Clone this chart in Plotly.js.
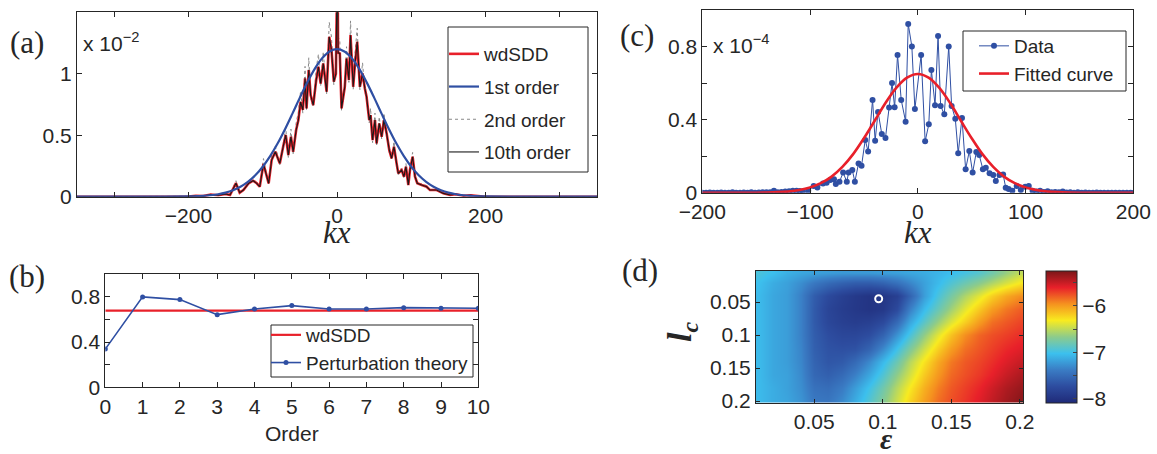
<!DOCTYPE html>
<html><head><meta charset="utf-8">
<script src="https://cdn.plot.ly/plotly-3.0.1.min.js"></script>
<style>html,body{margin:0;padding:0;background:#fff}#plot{width:1157px;height:454px}</style>
</head><body><div id="plot"></div>
<script>
// ---------- Panel (a) ----------
const kxA = [-350,-300,-250,-200,-190,-180,-170,-160,-150,-144,-136,-131,-126,-119,-113,-108,-104,-99,-92,-88,-83,-77,-72,-69,-65.5,-62,-59,-55,-52,-49,-46,-43,-41,-38,-35.5,-32,-28,-25,-22,-18.5,-14,-10.5,-7.4,-4.3,-1.5,-0.6,0.6,1.5,3.8,6.1,10.5,12.8,16,18.2,21.8,24.1,27.2,30.8,34.4,37.5,39.8,43.4,45.2,47.9,51.1,53.3,56.9,60.1,63.2,66.8,70.4,73.5,76.7,80.2,82.5,87,90.1,92.8,96,98.2,101.8,105,108.1,114,120.7,125.2,134.2,143.2,152.2,160,170,180,190,200,250,300,350];
const wdsddA = [0,0,0,0.002,0.008,0.005,0.018,0.012,0.022,0.014,0.11,0.033,0.054,0.109,0.13,0.109,0.081,0.266,0.109,0.298,0.366,0.271,0.42,0.502,0.339,0.488,0.366,0.542,0.623,0.772,0.705,0.962,0.718,1.03,0.827,0.745,0.949,1.057,0.921,1.084,0.854,1.301,1.192,0.935,1.0,2.0,2.0,1.17,1.165,0.718,0.894,1.124,0.949,1.314,0.894,1.07,1.26,0.894,1.003,0.881,0.813,0.623,0.664,0.461,0.623,0.434,0.596,0.488,0.623,0.515,0.379,0.312,0.407,0.271,0.19,0.217,0.163,0.244,0.095,0.217,0.325,0.163,0.109,0.095,0.081,0.054,0.054,0.027,0.014,0.02,0.008,0.012,0.004,0,0,0,0];
const secondA = [0,0,0,0.003,0.01,0.006,0.02,0.015,0.025,0.016,0.13,0.03,0.06,0.12,0.15,0.11,0.08,0.31,0.1,0.34,0.41,0.26,0.47,0.56,0.32,0.55,0.35,0.6,0.69,0.86,0.68,1.06,0.7,1.13,0.8,0.73,1.04,1.16,0.9,1.18,0.83,1.42,1.3,0.91,1.0,2.0,2.0,1.3,1.27,0.7,0.87,1.22,0.93,1.43,0.87,1.16,1.37,0.87,1.09,0.86,0.79,0.6,0.72,0.44,0.68,0.41,0.65,0.47,0.68,0.5,0.36,0.3,0.45,0.26,0.18,0.24,0.15,0.27,0.09,0.24,0.36,0.155,0.1,0.105,0.09,0.05,0.06,0.025,0.015,0.022,0.008,0.013,0.004,0,0,0,0];
const tenthA = wdsddA.slice();
const kxFirst = [-350,-300,-250,-200,-190,-180,-170,-160,-150,-140,-130,-120,-110,-100,-90,-80,-70,-60,-50,-40,-30,-20,-10,0,10,20,30,40,50,60,70,80,90,100,110,120,130,140,150,160,170,180,190,200,250,300,350];
const firstA = [0,0,0,0.002,0.004,0.007,0.012,0.020,0.033,0.053,0.081,0.121,0.174,0.244,0.330,0.432,0.549,0.676,0.806,0.930,1.040,1.126,1.181,1.200,1.181,1.126,1.040,0.930,0.806,0.676,0.549,0.432,0.330,0.244,0.174,0.121,0.081,0.053,0.033,0.020,0.012,0.007,0.004,0.002,0,0,0];

// ---------- Panel (b) ----------
const orders = [0,1,2,3,4,5,6,7,8,9,10];
const perturb = [0.338,0.800,0.776,0.643,0.693,0.723,0.693,0.693,0.705,0.700,0.700];
const wdsddBx = [0,10];
const wdsddB = [0.678,0.678];

// ---------- Panel (c) ----------
const kxC = [-200,-196.5,-193,-189.5,-186,-182.5,-179,-175.5,-172,-168.5,-165,-161.5,-158,-154.5,-151,-147.5,-144,-140.5,-137,-133.5,-130,-126.5,-123,-119.5,-116,-112.5,-109.5,
 -106.8,-101.7,-96.6,-93.2,-88,-84.6,-81.2,-77.8,-76.1,-72.7,-69.3,-65.9,-64.2,-60.8,-58.4,-55,-52.2,-48.8,-46.1,-42,-39.6,-36.9,-33.4,-30,-26.6,-23.9,-21.5,-18.8,-15.4,-11.3,-8.9,-5.5,-2.7,3.1,6.8,10.2,12.6,16,18.8,21.2,24.6,28.7,31.4,34.8,37.5,41,44.4,47.8,50.9,54.3,57,60.4,63.1,66.6,70,72.4,75.8,79.2,81.6,84.3,87.7,91.8,95.6,99.7,103,106.5,
 110,113.5,117,120.5,124,127.5,131,134.5,138,141.5,145,148.5,152,155.5,159,162.5,166,169.5,173,176.5,180,183.5,187,190.5,194,197.5,201];
const dataC = [0,0,0.001,0,0,0.001,0,0,0.002,0,0,0.001,0,0.002,0,0.001,0.002,0.003,0.002,0.01,0.003,0.004,0.006,0.008,0.01,0.011,0.009,
 0.005,0.011,0.037,0.029,0.051,0.055,0.069,0.073,0.047,0.06,0.11,0.06,0.11,0.124,0.06,0.16,0.148,0.289,0.225,0.508,0.285,0.442,0.321,0.3,0.466,0.6,0.468,0.754,0.508,0.389,0.924,0.8,0.458,0.754,0.281,0.374,0.672,0.479,0.858,0.475,0.429,0.8,0.475,0.405,0.216,0.409,0.128,0.228,0.11,0.223,0.206,0.128,0.137,0.106,0.097,0.064,0.097,0.1,0.027,0.02,0.011,0.037,0.015,0.033,0.037,0.011,
 0.006,0.01,0.004,0.008,0.003,0.004,0.002,0.006,0.001,0.003,0,0.002,0,0.001,0,0,0.001,0,0,0,0,0,0,0,0,0,0];
const kxFit = [-200,-150,-140,-130,-120,-110,-100,-90,-80,-70,-60,-50,-40,-30,-20,-10,0,10,20,30,40,50,60,70,80,90,100,110,120,130,140,150,200];
const fitC = [0,0,0.001,0.003,0.007,0.015,0.029,0.052,0.088,0.141,0.211,0.298,0.394,0.491,0.574,0.630,0.650,0.630,0.574,0.491,0.394,0.298,0.211,0.141,0.088,0.052,0.029,0.015,0.007,0.003,0.001,0,0];

// ---------- Panel (d) ----------
const epsVals = [0.01,0.02,0.03,0.04,0.05,0.06,0.07,0.08,0.09,0.10,0.11,0.12,0.13,0.14,0.15,0.16,0.17,0.18,0.19,0.20];
const lcVals = [0.005,0.02,0.04,0.06,0.08,0.10,0.12,0.14,0.16,0.18,0.20];
const logErr = [
 [-6.95,-7.02,-7.10,-7.15,-7.18,-7.20,-7.22,-7.22,-7.22,-7.20,-7.18,-7.15,-7.12,-7.08,-7.03,-6.97,-6.90,-6.78,-6.63,-6.50],
 [-7.02,-7.12,-7.18,-7.28,-7.40,-7.50,-7.56,-7.60,-7.60,-7.55,-7.45,-7.32,-7.18,-7.05,-6.92,-6.80,-6.68,-6.55,-6.42,-6.30],
 [-7.05,-7.15,-7.20,-7.35,-7.60,-7.75,-7.85,-7.92,-7.97,-7.95,-7.85,-7.55,-7.20,-6.95,-6.75,-6.55,-6.38,-6.20,-6.05,-5.95],
 [-7.05,-7.15,-7.20,-7.35,-7.62,-7.80,-7.88,-7.93,-7.97,-7.93,-7.75,-7.35,-7.05,-6.82,-6.60,-6.38,-6.18,-6.00,-5.88,-5.80],
 [-7.05,-7.15,-7.20,-7.35,-7.62,-7.78,-7.85,-7.88,-7.85,-7.75,-7.50,-7.15,-6.88,-6.62,-6.40,-6.20,-6.00,-5.85,-5.78,-5.72],
 [-7.05,-7.15,-7.20,-7.35,-7.60,-7.72,-7.78,-7.78,-7.72,-7.55,-7.25,-6.95,-6.65,-6.38,-6.15,-5.95,-5.82,-5.75,-5.70,-5.65],
 [-7.05,-7.15,-7.20,-7.33,-7.58,-7.68,-7.70,-7.68,-7.55,-7.30,-7.00,-6.72,-6.45,-6.20,-6.00,-5.85,-5.77,-5.70,-5.63,-5.58],
 [-7.05,-7.15,-7.20,-7.32,-7.55,-7.65,-7.62,-7.50,-7.30,-7.05,-6.80,-6.52,-6.28,-6.05,-5.88,-5.78,-5.72,-5.65,-5.57,-5.50],
 [-7.05,-7.15,-7.18,-7.30,-7.52,-7.58,-7.50,-7.35,-7.15,-6.92,-6.65,-6.42,-6.18,-5.98,-5.83,-5.75,-5.68,-5.60,-5.50,-5.42],
 [-7.05,-7.12,-7.18,-7.28,-7.45,-7.48,-7.38,-7.20,-7.00,-6.78,-6.52,-6.30,-6.08,-5.90,-5.78,-5.70,-5.62,-5.52,-5.42,-5.35],
 [-7.05,-7.12,-7.16,-7.25,-7.40,-7.42,-7.30,-7.12,-6.92,-6.70,-6.45,-6.22,-6.02,-5.85,-5.75,-5.67,-5.58,-5.48,-5.38,-5.30]
];
const optEps = [0.097];
const optLc = [0.045];
const cbTicks = [-8,-7.5,-7,-6.5,-6,-5.5];
const cbLabels = ['\u22128','','\u22127','','\u22126',''];

// ---------- styling ----------
const SANS = 'Liberation Sans, Arial, sans-serif';
const SERIF = 'Liberation Serif, Times New Roman, serif';
const INK = '#262626';
const RED = '#e8202a', BLUE = '#2f4fa3';
const W = 1157, H = 454;
const fx = p => p / W, fy = p => 1 - p / H;
const TF = 21;

function ax(extra) {
  return Object.assign({
    showline: true, linecolor: INK, linewidth: 1, mirror: 'ticks',
    ticks: 'inside', ticklen: 5, tickcolor: INK, tickwidth: 1,
    showgrid: false, zeroline: false, fixedrange: true,
    tickfont: {family: SANS, size: TF, color: INK}
  }, extra);
}

const traces = [
  // (a)
  {x: kxA, y: secondA, type: 'scatter', mode: 'lines', name: '2nd order', legendrank: 3, legendgroup: 'a3',
   line: {color: '#888', width: 1, dash: 'dot'}, xaxis: 'x', yaxis: 'y', legend: 'legend'},
  {x: kxA, y: wdsddA, type: 'scatter', mode: 'lines', name: 'wdSDD', legendrank: 1, legendgroup: 'a1',
   line: {color: RED, width: 2.6}, xaxis: 'x', yaxis: 'y', legend: 'legend'},
  {x: kxA, y: tenthA, type: 'scatter', mode: 'lines', name: '10th order', legendrank: 4, legendgroup: 'a4',
   line: {color: '#1a1a1a', width: 1.1}, xaxis: 'x', yaxis: 'y', legend: 'legend'},
  {x: kxFirst, y: firstA, type: 'scatter', mode: 'lines', name: '1st order', legendrank: 2, legendgroup: 'a2',
   line: {color: BLUE, width: 2.2, shape: 'spline'}, xaxis: 'x', yaxis: 'y', legend: 'legend'},
  // (b)
  {x: wdsddBx, y: wdsddB, type: 'scatter', mode: 'lines', name: 'wdSDD',
   line: {color: RED, width: 2.2}, xaxis: 'x2', yaxis: 'y2', legend: 'legend2'},
  {x: orders, y: perturb, type: 'scatter', mode: 'lines+markers', name: 'Perturbation theory',
   line: {color: BLUE, width: 1.6}, marker: {color: BLUE, size: 5}, xaxis: 'x2', yaxis: 'y2', legend: 'legend2'},
  // (c)
  {x: kxC, y: dataC, type: 'scatter', mode: 'lines+markers', name: 'Data',
   line: {color: BLUE, width: 1}, marker: {color: BLUE, size: 6}, xaxis: 'x3', yaxis: 'y3', legend: 'legend3'},
  {x: kxFit, y: fitC, type: 'scatter', mode: 'lines', name: 'Fitted curve',
   line: {color: RED, width: 2.6, shape: 'spline'}, xaxis: 'x3', yaxis: 'y3', legend: 'legend3'},
  // (d)
  {x: epsVals, y: lcVals, z: logErr, type: 'heatmap', zsmooth: 'best', showlegend: false,
   zmin: -8.08, zmax: -5.25, xaxis: 'x4', yaxis: 'y4',
   colorscale: [[0,'#1f2a78'],[0.125,'#2d4c9f'],[0.25,'#3a7cc4'],[0.375,'#3cc0ee'],[0.5,'#8ccb8c'],[0.625,'#f8eb20'],[0.75,'#f5921f'],[0.875,'#e8202a'],[1,'#7a1618']],
   colorbar: {x: fx(1046), xanchor: 'left', xpad: 0, ypad: 0, y: fy(336.7), yanchor: 'middle',
     thickness: 31, thicknessmode: 'pixels', len: 132, lenmode: 'pixels',
     outlinecolor: INK, outlinewidth: 1, ticks: 'inside', ticklen: 4, tickcolor: '#444',
     tickmode: 'array', tickvals: cbTicks, ticktext: cbLabels,
     tickfont: {family: SANS, size: TF, color: INK}}},
  {x: optEps, y: optLc, type: 'scatter', mode: 'markers', showlegend: false, xaxis: 'x4', yaxis: 'y4',
   marker: {symbol: 'circle-open', size: 7, color: '#fff', line: {color: '#fff', width: 2}}}
];

const legBase = {bgcolor: 'rgba(0,0,0,0)', borderwidth: 0, font: {family: SANS, size: 19, color: INK},
  xanchor: 'left', yanchor: 'top', itemwidth: 30};

const boxes = [[448, 588, 27, 172], [271, 473, 325, 377], [963, 1126, 31, 91]];

const layout = {
  width: W, height: H, margin: {l: 0, r: 0, t: 0, b: 0}, autosize: false,
  paper_bgcolor: '#fff', plot_bgcolor: '#fff', showlegend: true,
  legend: Object.assign({}, legBase, {x: fx(444), y: fy(35), traceorder: 'grouped', tracegroupgap: 5}),
  legend2: Object.assign({}, legBase, {x: fx(266), y: fy(316)}),
  legend3: Object.assign({}, legBase, {x: fx(974), y: fy(27)}),
  shapes: boxes.map(b => ({type: 'rect', xref: 'paper', yref: 'paper', x0: fx(b[0]), x1: fx(b[1]), y0: fy(b[3]), y1: fy(b[2]),
    line: {color: INK, width: 1}, fillcolor: '#fff', layer: 'above'})),
  xaxis: ax({domain: [fx(77), fx(597)], range: [-350, 350], anchor: 'y',
    tickmode: 'array', tickvals: [-300,-200,-100,0,100,200,300], ticktext: ['','\u2212200','','0','','200','']}),
  yaxis: ax({domain: [fy(196.7), fy(12.3)], range: [0, 1.5], anchor: 'x',
    tickmode: 'array', tickvals: [0,0.5,1,1.5], ticktext: ['0','0.5','1','']}),
  xaxis2: ax({domain: [fx(105.3), fx(478.3)], range: [0, 10], anchor: 'y2',
    tickmode: 'array', tickvals: orders, ticktext: orders.map(String)}),
  yaxis2: ax({domain: [fy(387.3), fy(274.3)], range: [0, 1], anchor: 'x2',
    tickmode: 'array', tickvals: [0,0.2,0.4,0.6,0.8,1], ticktext: ['0','','0.4','','0.8','']}),
  xaxis3: ax({domain: [fx(702.3), fx(1133.3)], range: [-200, 200], anchor: 'y3',
    tickmode: 'array', tickvals: [-200,-100,0,100,200], ticktext: ['\u2212200','\u2212100','0','100','200']}),
  yaxis3: ax({domain: [fy(192.7), fy(10)], range: [0, 1], anchor: 'x3',
    tickmode: 'array', tickvals: [0,0.2,0.4,0.6,0.8,1], ticktext: ['0','','0.4','','0.8','']}),
  xaxis4: ax({domain: [fx(756), fx(1023.3)], range: [0.0075, 0.2025], anchor: 'y4', ticklen: 4,
    tickmode: 'array', tickvals: [0.05,0.1,0.15,0.2], ticktext: ['0.05','0.1','0.15','0.2']}),
  yaxis4: ax({domain: [fy(402.7), fy(270.7)], range: [0.2025, 0.0025], anchor: 'x4', ticklen: 4,
    tickmode: 'array', tickvals: [0.05,0.1,0.15,0.2], ticktext: ['0.05','0.1','0.15','0.2']}),
  annotations: [
    {text: '(a)', x: fx(27), y: fy(42)},
    {text: '(b)', x: fx(27), y: fy(276)},
    {text: '(c)', x: fx(637), y: fy(36)},
    {text: '(d)', x: fx(640), y: fy(270)}
  ].map(a => Object.assign(a, {xref: 'paper', yref: 'paper', showarrow: false, xanchor: 'center', yanchor: 'middle',
     font: {family: SERIF, size: 31, color: INK}})).concat([
    {text: 'x 10<sup>\u22122</sup>', x: fx(81), y: fy(42), xanchor: 'left', font: {family: SANS, size: TF, color: INK}},
    {text: 'x 10<sup>\u22124</sup>', x: fx(711), y: fy(44), xanchor: 'left', font: {family: SANS, size: TF, color: INK}},
    {text: '<i>kx</i>', x: fx(337), y: fy(232), font: {family: SERIF, size: 31, color: INK}},
    {text: '<i>kx</i>', x: fx(918), y: fy(232), font: {family: SERIF, size: 31, color: INK}},
    {text: 'Order', x: fx(292), y: fy(433), font: {family: SANS, size: TF, color: INK}},
    {text: '<b><i>\u03b5</i></b>', x: fx(886), y: fy(438), font: {family: SERIF, size: 30, color: INK}},
    {text: '<b><i>l</i></b><sub><b><i>c</i></b></sub>', x: fx(682), y: fy(332), textangle: -90, font: {family: SERIF, size: 34, color: INK}}
  ].map(a => Object.assign({xref: 'paper', yref: 'paper', showarrow: false, yanchor: 'middle', xanchor: a.xanchor || 'center'}, a)))
};

Plotly.newPlot('plot', traces, layout, {staticPlot: true, displayModeBar: false});
</script></body></html>
